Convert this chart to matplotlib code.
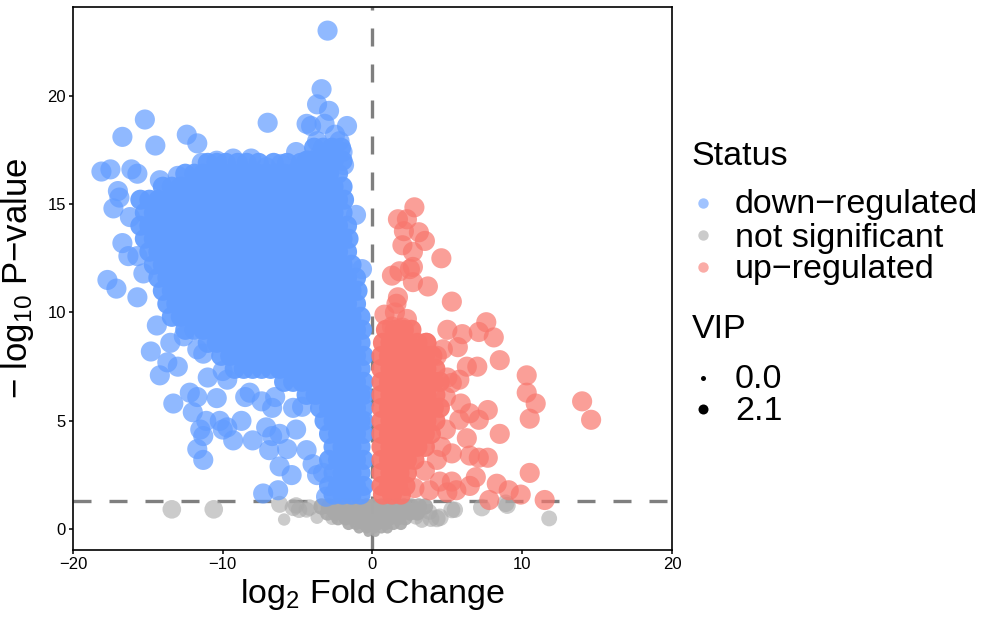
import matplotlib
matplotlib.use("Agg")
import matplotlib.pyplot as plt

plt.rcParams['font.family'] = ['Liberation Sans', 'DejaVu Sans']
plt.rcParams['mathtext.fontset'] = 'custom'
plt.rcParams['mathtext.rm'] = 'Liberation Sans'
plt.rcParams['mathtext.it'] = 'Liberation Sans:italic'

# ---------- data ----------
# dense core of down-regulated genes, stored row by row (-log10 p, list of log2FC)
down_row_y = [17.6, 17.0, 16.9, 16.4, 15.8, 15.2, 14.6, 14.0, 13.4, 12.8, 12.2,
              11.6, 11.0, 10.4, 9.8, 9.2, 8.6, 8.0, 7.4, 6.8, 6.2, 5.6, 5.0,
              4.4, 3.8, 3.2, 2.6, 2.0, 1.6]
down_row_x = [
    [-3.9, -3.3, -2.7, -2.1],
    [-4.4, -3.8, -3.2, -2.6, -2.0],
    [-11.0, -10.4, -9.8, -9.0, -8.4, -7.6, -6.6, -5.7, -4.8],
    [-12.5, -11.9, -11.3, -10.7, -10.1, -9.5, -8.9, -8.3, -7.7, -7.1, -6.5, -5.9,
     -5.3, -4.7, -4.1, -3.5, -2.9, -2.3],
    [-14.0, -13.4, -12.8, -12.2, -11.6, -11.0, -10.4, -9.8, -9.2, -8.6, -8.0, -7.4,
     -6.8, -6.2, -5.6, -5.0, -4.4, -3.8, -3.2, -2.6, -2.0],
    [-15.5, -14.9, -14.3, -13.7, -13.1, -12.5, -11.9, -11.3, -10.7, -10.1, -9.5, -8.9,
     -8.3, -7.7, -7.1, -6.5, -5.9, -5.3, -4.7, -4.1, -3.5, -2.9, -2.3, -1.9],
    [-15.2, -14.6, -14.0, -13.4, -12.8, -12.2, -11.6, -11.0, -10.4, -9.8, -9.2, -8.6,
     -8.0, -7.4, -6.8, -6.2, -5.6, -5.0, -4.4, -3.8, -3.2, -2.6, -2.0],
    [-15.5, -14.9, -14.3, -13.7, -13.1, -12.5, -11.9, -11.3, -10.7, -10.1, -9.5, -8.9,
     -8.3, -7.7, -7.1, -6.5, -5.9, -5.3, -4.7, -4.1, -3.5, -2.9, -2.3, -1.7],
    [-15.2, -14.6, -14.0, -13.4, -12.8, -12.2, -11.6, -11.0, -10.4, -9.8, -9.2, -8.6,
     -8.0, -7.4, -6.8, -6.2, -5.6, -5.0, -4.4, -3.8, -3.2, -2.6, -2.0, -1.6],
    [-14.9, -14.3, -13.7, -13.1, -12.5, -11.9, -11.3, -10.7, -10.1, -9.5, -8.9, -8.3,
     -7.7, -7.1, -6.5, -5.9, -5.3, -4.7, -4.1, -3.5, -2.9, -2.3, -1.7],
    [-14.6, -14.0, -13.4, -12.8, -12.2, -11.6, -11.0, -10.4, -9.8, -9.2, -8.6, -8.0,
     -7.4, -6.8, -6.2, -5.6, -5.0, -4.4, -3.8, -3.2, -2.6, -2.0, -1.4],
    [-14.3, -13.7, -13.1, -12.5, -11.9, -11.3, -10.7, -10.1, -9.5, -8.9, -8.3, -7.7,
     -7.1, -6.5, -5.9, -5.3, -4.7, -4.1, -3.5, -2.9, -2.3, -1.7, -1.1],
    [-14.0, -13.4, -12.8, -12.2, -11.6, -11.0, -10.4, -9.8, -9.2, -8.6, -8.0, -7.4,
     -6.8, -6.2, -5.6, -5.0, -4.4, -3.8, -3.2, -2.6, -2.0, -1.4, -1.0],
    [-13.7, -13.1, -12.5, -11.9, -11.3, -10.7, -10.1, -9.5, -8.9, -8.3, -7.7, -7.1,
     -6.5, -5.9, -5.3, -4.7, -4.1, -3.5, -2.9, -2.3, -1.7, -1.1],
    [-13.4, -12.8, -12.2, -11.6, -11.0, -10.4, -9.8, -9.2, -8.6, -8.0, -7.4, -6.8,
     -6.2, -5.6, -5.0, -4.4, -3.8, -3.2, -2.6, -2.0, -1.4, -0.8],
    [-12.5, -11.9, -11.3, -10.7, -10.1, -9.5, -8.9, -8.3, -7.7, -7.1, -6.5, -5.9,
     -5.3, -4.7, -4.1, -3.5, -2.9, -2.3, -1.7, -1.1, -0.7],
    [-11.0, -10.4, -9.8, -9.2, -8.6, -8.0, -7.4, -6.8, -6.2, -5.6, -5.0, -4.4,
     -3.8, -3.2, -2.6, -2.0, -1.4, -0.8],
    [-10.1, -9.5, -8.9, -8.3, -7.7, -7.1, -6.5, -5.9, -5.3, -4.7, -4.1, -3.5,
     -2.9, -2.3, -1.7, -1.1, -0.6],
    [-9.2, -8.6, -8.0, -7.4, -6.8, -6.2, -5.6, -5.0, -4.4, -3.8, -3.2, -2.6,
     -2.0, -1.4, -0.8],
    [-5.9, -5.3, -4.7, -4.1, -3.5, -2.9, -2.3, -1.7, -1.1, -0.6],
    [-4.4, -3.8, -3.2, -2.6, -2.0, -1.4, -0.8, -0.6],
    [-3.5, -2.9, -2.3, -1.7, -1.1, -0.6],
    [-3.2, -2.6, -2.0, -1.4, -0.8, -0.6],
    [-2.9, -2.3, -1.7, -1.1, -0.6],
    [-2.6, -2.0, -1.4, -0.8],
    [-2.9, -2.3, -1.7, -1.1, -0.6],
    [-2.6, -2.0, -1.4, -0.8],
    [-2.9, -2.3, -1.7, -1.1, -0.6],
    [-2.6, -2.0, -1.4, -0.8],
]
down_row_vip = [2.0] * len(down_row_y)

# scattered down-regulated genes around the core
down_x = [-3.0, -3.4, -3.7, -2.9, -4.4, -4.1, -3.2, -1.7, -2.5, -7.0,
          -15.2, -16.7, -14.5, -12.4, -11.7, -18.1, -17.5, -16.1, -15.7, -17.0,
          -16.9, -17.3, -16.2, -16.7, -16.3, -15.7, -17.7, -17.1, -15.7, -15.3,
          -14.4, -14.8, -11.4, -10.4, -9.3, -8.1, -13.0, -14.2, -7.1, -6.1,
          -5.1, -4.3, -3.7, -3.5, -2.8, -2.2, -2.0, -1.9, -1.1, -0.7,
          -14.2, -13.7, -13.0, -13.3, -12.2, -11.7, -12.0, -11.7, -11.3, -11.0,
          -10.4, -10.2, -10.0, -11.5, -11.3, -11.7, -11.3, -11.1, -9.7, -9.3,
          -8.75, -8.0, -7.4, -6.7, -7.1, -6.7, -6.2, -6.9, -6.2, -5.4,
          -5.7, -5.1, -4.4, -5.3, -4.7, -7.3, -6.3, -6.5, -8.2, -8.5,
          -9.7, -12.6, -13.5, -10.0, -3.3, -3.1, -3.7, -4.0]
down_y = [23.0, 20.3, 19.6, 19.3, 18.7, 18.6, 18.7, 18.6, 18.2, 18.75,
          18.9, 18.1, 17.7, 18.2, 17.8, 16.5, 16.6, 16.6, 16.4, 15.6,
          15.3, 14.8, 14.4, 13.2, 12.6, 12.6, 11.5, 11.1, 10.7, 11.8,
          9.4, 8.2, 16.9, 17.0, 17.1, 17.1, 16.3, 16.1, 16.7, 16.85,
          17.4, 17.0, 17.9, 17.3, 17.0, 17.9, 17.4, 16.8, 14.5, 12.0,
          7.1, 7.7, 7.5, 5.8, 6.3, 6.1, 5.4, 8.3, 8.1, 7.0,
          6.05, 5.0, 4.6, 4.6, 4.3, 3.7, 3.2, 5.0, 4.7, 4.1,
          5.0, 4.1, 5.9, 5.6, 4.7, 4.3, 4.4, 3.65, 2.9, 2.5,
          3.7, 4.6, 3.65, 5.6, 5.65, 1.65, 1.8, 6.1, 6.3, 6.1,
          6.9, 8.9, 8.6, 7.3, 2.6, 1.5, 2.5, 3.0]
down_vip = [2.0] * len(down_x)

# dense core of up-regulated genes, row by row
up_row_y = [9.2, 8.6, 8.0, 7.4, 6.8, 6.2, 5.6, 5.0, 4.4, 3.8, 3.2, 2.6, 2.0, 1.6]
up_row_x = [
    [0.9, 1.5, 2.1, 2.6],
    [0.7, 1.2, 1.8, 2.4, 3.0, 3.6],
    [0.6, 1.1, 1.7, 2.3, 2.9, 3.5, 4.0],
    [0.6, 1.2, 1.8, 2.4, 3.0, 3.6, 4.2],
    [0.6, 1.1, 1.7, 2.3, 2.9, 3.5, 4.1, 4.5],
    [0.6, 1.2, 1.8, 2.4, 3.0, 3.6, 4.2],
    [0.6, 1.1, 1.7, 2.3, 2.9, 3.5, 4.1, 4.5],
    [0.6, 1.2, 1.8, 2.4, 3.0, 3.6, 4.2],
    [0.6, 1.1, 1.7, 2.3, 2.9, 3.5, 3.9],
    [0.6, 1.2, 1.8, 2.4, 3.0, 3.5],
    [0.6, 1.1, 1.7, 2.3, 2.8],
    [0.6, 1.2, 1.8, 2.3],
    [0.6, 1.1, 1.7, 2.2],
    [0.7, 1.3, 1.9],
]
up_row_vip = [2.0] * len(up_row_y)

up_x = [2.8, 1.7, 2.3, 2.1, 3.1, 3.5, 2.0, 2.7, 4.6, 2.7,
        2.5, 1.8, 1.3, 2.7, 3.7, 1.7, 1.6, 1.5, 5.3, 0.8,
        1.3, 2.3, 2.0, 7.6, 7.1, 8.1, 5.0, 6.0, 5.7, 8.5,
        3.6, 4.7, 4.3, 6.3, 7.0, 5.8, 5.3, 10.3, 10.3, 10.9,
        10.5, 14.0, 14.6, 5.9, 6.5, 7.7, 7.1, 5.8, 8.5, 6.3,
        5.3, 6.5, 7.1, 7.7, 4.6, 4.3, 3.5, 10.5, 4.5, 5.3,
        5.6, 6.9, 8.3, 9.1, 9.9, 7.8, 11.5, 3.8, 2.8, 5.0,
        6.5, 5.0, 4.9, 4.9]
up_y = [14.85, 14.3, 14.3, 13.75, 13.7, 13.3, 13.1, 12.8, 12.5, 12.1,
        12.0, 11.9, 11.7, 11.4, 11.2, 10.7, 10.4, 10.0, 10.5, 9.9,
        9.35, 9.7, 9.3, 9.55, 9.1, 8.85, 9.2, 9.0, 8.4, 7.8,
        8.6, 8.3, 8.0, 7.5, 7.5, 6.9, 6.75, 7.1, 6.3, 5.8,
        5.1, 5.9, 5.05, 5.8, 5.35, 5.5, 5.05, 5.05, 4.4, 4.2,
        3.5, 3.4, 3.3, 3.3, 3.8, 3.2, 2.7, 2.6, 2.2, 2.2,
        1.8, 2.4, 2.1, 1.8, 1.6, 1.35, 1.35, 1.8, 1.9, 1.7,
        2.0, 7.0, 6.1, 4.6]
up_vip = [2.0] * len(up_x)

# not significant genes below the p-value cut-off
ns_row_y = [1.05, 0.75, 0.5, 0.25, 0.05, -0.15]
ns_row_x = [
    [-3.4, -2.9, -2.4, -1.9, -1.4, -0.9, -0.4, 0.1, 0.6, 1.1, 1.6, 2.1, 2.6, 3.1, 3.5],
    [-3.0, -2.5, -2.0, -1.5, -1.0, -0.5, 0.0, 0.5, 1.0, 1.5, 2.0, 2.5, 3.0],
    [-2.3, -1.8, -1.3, -0.8, -0.3, 0.2, 0.7, 1.2, 1.7, 2.2],
    [-1.6, -1.1, -0.6, -0.1, 0.4, 0.9, 1.4, 1.9],
    [-0.9, -0.4, 0.1, 0.6, 1.0],
    [-0.3, 0.2],
]
ns_row_vip = [1.3, 1.1, 0.9, 0.7, 0.5, 0.3]

ns_x = [-13.4, -10.6, -6.2, -5.3, -4.9, -5.9, -4.4, -3.7, -5.1, -4.2,
        -2.7, 4.5, 4.3, 5.3, 7.3, 8.9, 9.0, 11.8, 2.9, 3.3,
        3.8, 5.5, 3.9]
ns_y = [0.92, 0.92, 1.15, 1.0, 0.9, 0.45, 0.9, 0.55, 1.1, 1.0,
        0.5, 0.55, 0.5, 0.9, 1.0, 1.2, 1.1, 0.5, 0.55, 0.4,
        0.8, 0.9, 0.5]
ns_vip = [1.7, 1.7, 1.4, 1.4, 1.3, 0.7, 1.2, 0.8, 1.3, 1.3,
          0.8, 1.5, 1.5, 1.4, 1.5, 1.5, 1.4, 1.2, 1.0, 1.0,
          1.2, 1.3, 1.4]

status_labels = ["down\u2212regulated", "not significant", "up\u2212regulated"]
status_colors = ["#619CFF", "#A9A9A9", "#F8766D"]
vip_labels = ["0.0", "2.1"]


def expand_rows(row_y, row_x, row_vip):
    xs, ys, vs = [], [], []
    for y, xr, v in zip(row_y, row_x, row_vip):
        xs += xr
        ys += [y] * len(xr)
        vs += [v] * len(xr)
    return xs, ys, vs


def vip_to_size(v):
    return [10 + 100 * a for a in v]


dx, dy, dv = expand_rows(down_row_y, down_row_x, down_row_vip)
ux, uy, uv = expand_rows(up_row_y, up_row_x, up_row_vip)
nx, ny, nv = expand_rows(ns_row_y, ns_row_x, ns_row_vip)

fig = plt.figure(figsize=(9.85, 6.19), dpi=100)
ax = fig.add_axes([0.0741, 0.1115, 0.6081, 0.8772])

line_kw = dict(color="#7F7F7F", lw=2.4, dashes=(5.4, 5.4), zorder=1)
ax.axhline(1.3, **line_kw)
ax.axvline(0, **line_kw)

# each core point stands for many overlapping genes, so it is drawn nearly opaque
ax.scatter(nx, ny, s=vip_to_size(nv), c=status_colors[1], alpha=0.92, lw=0, zorder=2)
ax.scatter(ns_x, ns_y, s=vip_to_size(ns_vip), c=status_colors[1], alpha=0.6, lw=0, zorder=2)
ax.scatter(dx, dy, s=vip_to_size(dv), c=status_colors[0], alpha=0.92, lw=0, zorder=3)
ax.scatter(down_x, down_y, s=vip_to_size(down_vip), c=status_colors[0], alpha=0.7,
           lw=0, zorder=3)
ax.scatter(ux, uy, s=vip_to_size(uv), c=status_colors[2], alpha=0.92, lw=0, zorder=3)
ax.scatter(up_x, up_y, s=vip_to_size(up_vip), c=status_colors[2], alpha=0.7,
           lw=0, zorder=3)

ax.set_xlim(-20, 20)
ax.set_ylim(-0.955, 24.09)
ax.set_xticks([-20, -10, 0, 10, 20])
ax.set_yticks([0, 5, 10, 15, 20])
ax.tick_params(length=3, width=1.1, labelsize=12, pad=2, colors="black")
for sp in ax.spines.values():
    sp.set_linewidth(1.2)
    sp.set_color("black")

ax.set_xlabel("log$_2$ Fold Change", fontsize=24.5, labelpad=4)
ax.set_ylabel("\u2212 log$_{10}$ P\u2212value", fontsize=25, labelpad=8)

# ---------- legend ----------
lg = fig.add_axes([0, 0, 1, 1])
lg.set_xlim(0, 1)
lg.set_ylim(0, 1)
lg.axis("off")

fig.text(0.7025, 0.7334, "Status", fontsize=24.5)
for lab, col, yb, yd in zip(status_labels, status_colors,
                            [0.6559, 0.6010, 0.5509], [0.6721, 0.6204, 0.5687]):
    fig.text(0.7462, yb, lab, fontsize=24.5)
    lg.plot([0.7137], [yd], "o", ms=7.5, color=col, alpha=0.6, mew=0)

fig.text(0.7025, 0.4540, "VIP", fontsize=24.5)
for lab, ms, yb, yd in zip(vip_labels, [3.6, 7.2], [0.3732, 0.3215], [0.3893, 0.3393]):
    fig.text(0.7462, yb, lab, fontsize=24.5)
    lg.plot([0.7137], [yd], "o", ms=ms, color="black", mew=0)

fig.savefig("out.png", dpi=100)
